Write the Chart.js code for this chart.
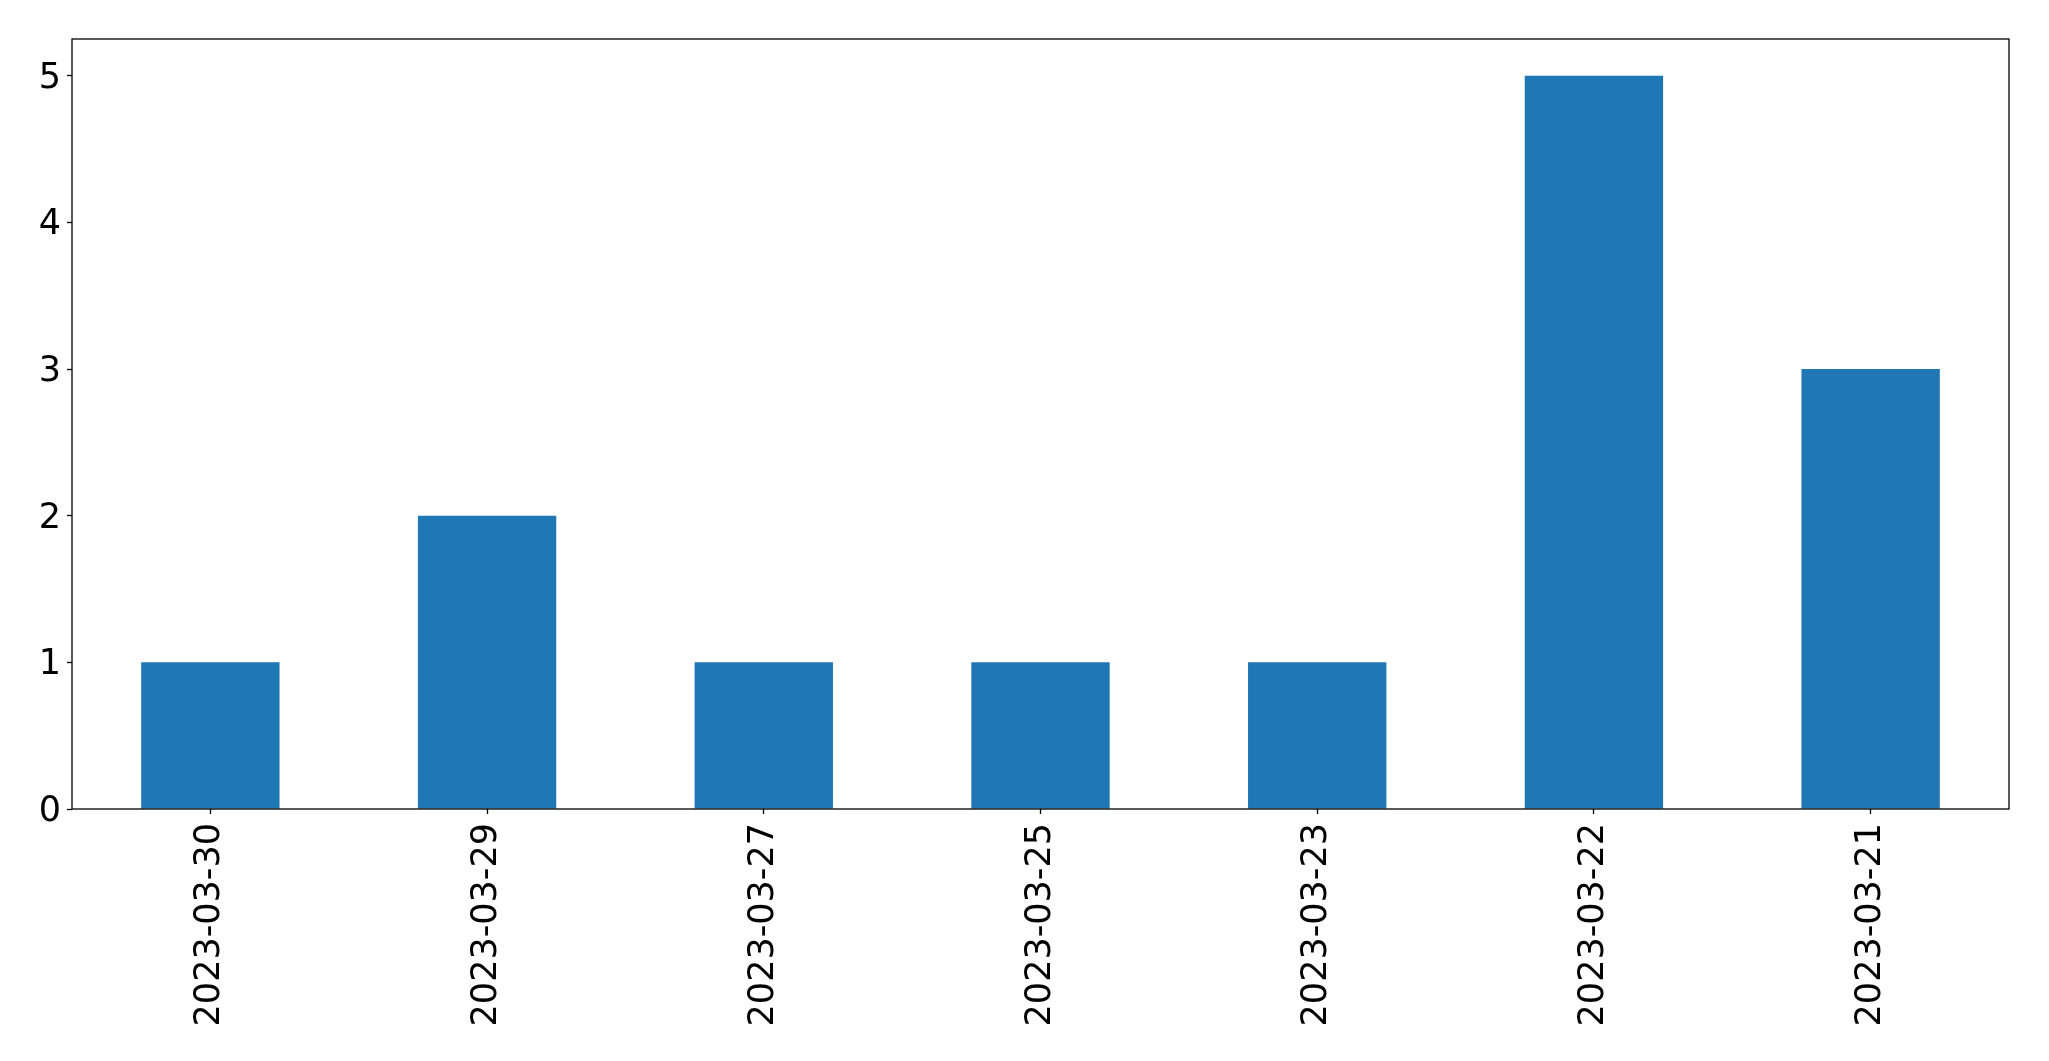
<!DOCTYPE html>
<html>
<head>
<meta charset="utf-8">
<script src="https://cdn.jsdelivr.net/npm/chart.js@4"></script>
<style>
  html, body { margin: 0; padding: 0; background: #fff; }
  #wrap { width: 2049px; height: 1061px; }
</style>
</head>
<body>
<div id="wrap"><canvas id="myChart" width="2049" height="1061"></canvas></div>
<script>
// Dates as they appear on the x axis (left to right)
const dates = ['2023-03-30', '2023-03-29', '2023-03-27', '2023-03-25', '2023-03-23', '2023-03-22', '2023-03-21'];
// Count per date
const counts = [1, 2, 1, 1, 1, 5, 3];
// Y tick values
const yTicks = [0, 1, 2, 3, 4, 5];

// draws the box round the plot area (matplotlib style spines)
const frame = {
    id: 'frame',
    afterDraw(chart) {
        const a = chart.chartArea;
        const c = chart.ctx;
        c.save();
        c.strokeStyle = '#000';
        c.lineWidth = 1.3;
        c.strokeRect(a.left, a.top, a.right - a.left, a.bottom - a.top);
        c.restore();
    }
};

const ctx = document.getElementById('myChart').getContext('2d');
new Chart(ctx, {
    type: 'bar',
    data: {
        labels: dates,
        datasets: [{
            data: counts,
            backgroundColor: '#1f77b4',
            categoryPercentage: 1.0,
            barPercentage: 0.5,
        }],
    },
    options: {
        responsive: false,
        animation: false,
        layout: { padding: { top: 39, right: 40, left: 0, bottom: 0 } },
        plugins: {
            legend: { display: false },
            tooltip: { enabled: false },
        },
        scales: {
            x: {
                offset: true,
                grid: { display: true, drawOnChartArea: false, offset: false, tickLength: 5, tickColor: '#000', tickWidth: 1.3 },
                border: { display: false },
                ticks: {
                    color: '#000',
                    padding: 9,
                    minRotation: 90,
                    maxRotation: 90,
                    autoSkip: false,
                    font: { family: 'DejaVu Sans', size: 35 },
                },
                afterFit(scale) { scale.height = 252; },
            },
            y: {
                min: 0,
                max: 5.25,
                afterBuildTicks(scale) { scale.ticks = yTicks.map(v => ({ value: v })); },
                grid: { display: true, drawOnChartArea: false, tickLength: 5, tickColor: '#000', tickWidth: 1.3 },
                border: { display: false },
                ticks: {
                    color: '#000',
                    padding: 6,
                    labelOffset: 3,
                    font: { family: 'DejaVu Sans', size: 35 },
                },
                afterFit(scale) { scale.width = 72; },
            },
        },
    },
    plugins: [frame],
});
</script>
</body>
</html>
